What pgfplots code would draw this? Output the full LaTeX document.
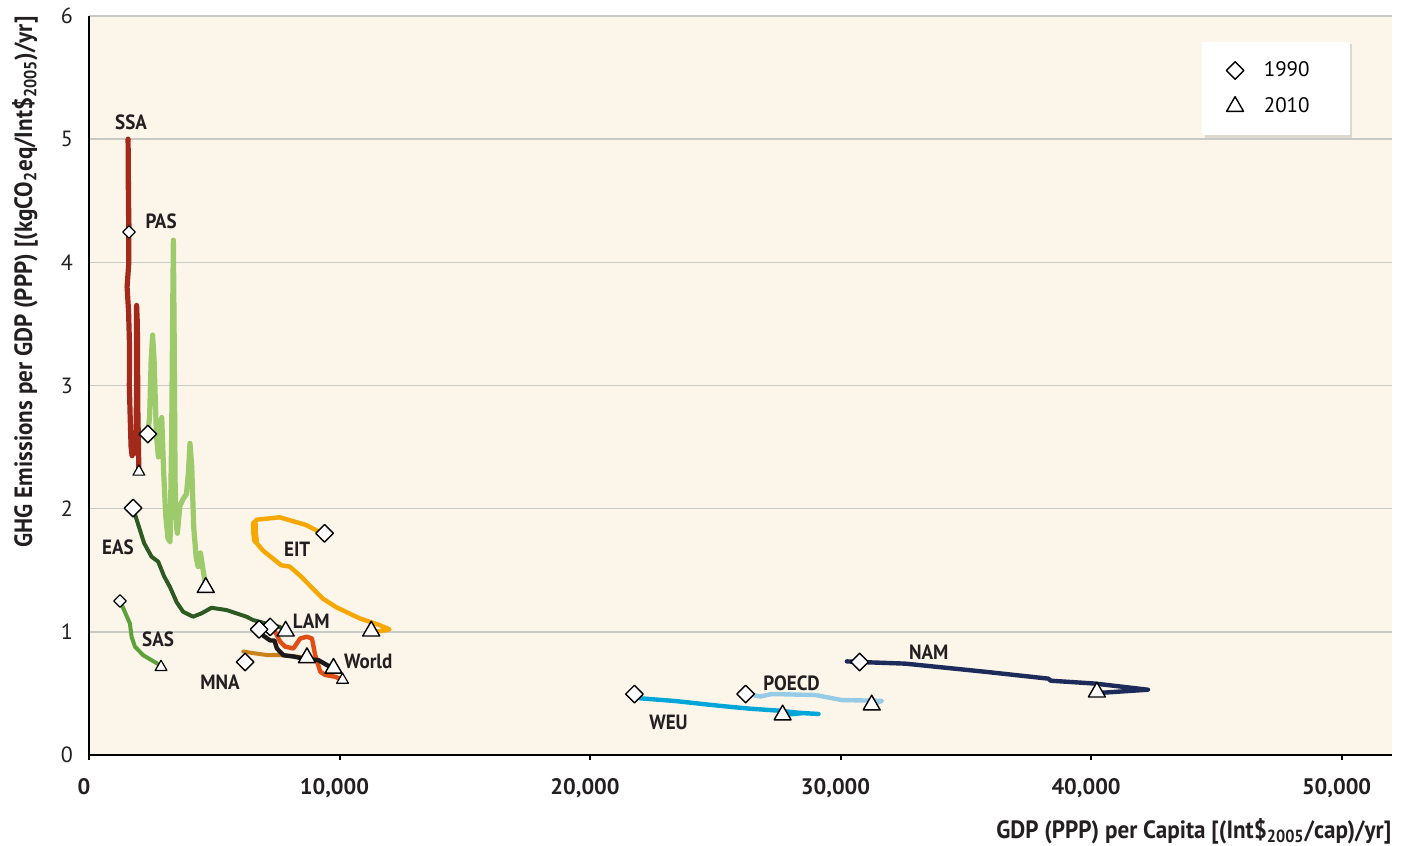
\documentclass[border=0pt]{standalone}
\usepackage{fontspec}
\setmainfont{PT Sans}
\newfontfamily\lblfont{PT Sans}[FakeStretch=0.925]
\usepackage{pgfplots}
\pgfplotsset{compat=1.18}
\usetikzlibrary{shadows}

\definecolor{bgc}{HTML}{FCF5EA}
\definecolor{gridc}{HTML}{C9C9C6}
\definecolor{ssa}{HTML}{A3291B}
\definecolor{pas}{HTML}{9DCB6B}
\definecolor{eas}{HTML}{2D5A22}
\definecolor{sas}{HTML}{5DA13A}
\definecolor{eit}{HTML}{F6A800}
\definecolor{lam}{HTML}{E04E16}
\definecolor{mna}{HTML}{C9821A}
\definecolor{wld}{HTML}{1A1A1A}
\definecolor{weu}{HTML}{00A6D8}
\definecolor{poecd}{HTML}{96CBE6}
\definecolor{nam}{HTML}{1C2B59}
\definecolor{txt}{HTML}{231F20}

\begin{document}
\begin{tikzpicture}
\begin{axis}[
    at={(0,0)}, anchor=south west,
    scale only axis,
    width=651.35pt, height=369.5pt,
    xmin=0, xmax=52000, ymin=0, ymax=6,
    axis x line*=bottom, axis y line*=left,
    axis line style={-, line width=1.3pt, black},
    axis background/.style={fill=bgc},
    xtick={0,10000,20000,30000,40000,50000},
    ytick={0,1,2,3,4,5,6},
    ymajorgrids,
    grid style={line width=0.8pt, gridc},
    tick align=outside,
    major tick length=2.5pt,
    xtick style={black, line width=1pt},
    ytick style={draw=none},
    scaled x ticks=false,
    /pgf/number format/assume math mode=true,
    /pgf/number format/1000 sep={,},
    xticklabel style={font=\bfseries\fontsize{11.2}{13}\selectfont, text=txt, xshift=-2.5pt, yshift=-5.5pt},
    yticklabel style={font=\fontsize{11}{13}\selectfont, text=txt, xshift=-2pt},
    xlabel={GDP (PPP) per Capita [(Int\$\textsubscript{2005}/cap)/yr]},
    ylabel={GHG Emissions per GDP (PPP) [(kgCO\textsubscript{2}eq/Int\$\textsubscript{2005})/yr]},
    xlabel style={font=\lblfont\bfseries\fontsize{12.5}{14}\selectfont, text=txt, at={(axis description cs:1,-0.085)}, anchor=north east, inner sep=0pt},
    ylabel style={font=\lblfont\bfseries\fontsize{12.5}{14}\selectfont, text=txt, at={(axis description cs:-0.039,1)}, anchor=south east, inner sep=0pt},
    legend style={at={(axis description cs:0.968,0.966)}, anchor=north east,
        draw=none, fill=white, font=\fontsize{10.5}{12}\selectfont,
        inner xsep=12pt, inner ysep=8pt, row sep=5pt,
        drop shadow={shadow xshift=1.2pt, shadow yshift=-1.2pt, opacity=0.25}},
    legend cell align=left,
    clip=false,
    every axis plot/.append style={line join=round, line cap=round},
]

% SSA
\addplot[ssa, line width=2.6pt, forget plot] coordinates {
 (1598,4.25) (1570,4.6) (1560,5.0) (1575,4.6) (1590,4.0) (1520,3.8) (1580,3.6)
 (1620,3.3) (1610,3.0) (1650,2.7) (1680,2.5) (1720,2.43) (1760,2.6) (1800,2.55)
 (1870,2.45) (1900,3.0) (1900,3.65) (1930,3.5) (1950,2.8) (1992,2.30)
};
% PAS
\addplot[pas, line width=2.6pt, forget plot] coordinates {
 (2351,2.606) (2420,2.75) (2480,3.2) (2540,3.41) (2600,3.2) (2690,2.6) (2770,2.42)
 (2840,2.65) (2904,2.74) (2980,2.3) (3060,1.95) (3150,1.76) (3236,1.73) (3300,2.6)
 (3340,3.6) (3368,4.18) (3400,3.4) (3436,2.23) (3480,1.88) (3528,1.80) (3625,2.02)
 (3760,2.08) (3890,2.12) (3970,2.3) (4030,2.53) (4100,2.35) (4180,1.85) (4280,1.6)
 (4355,1.53) (4450,1.64) (4540,1.52) (4620,1.42) (4661,1.36)
};
% EAS
\addplot[eas, line width=2pt, forget plot] coordinates {
 (1758,2.005) (1950,1.88) (2200,1.72) (2498,1.61) (2761,1.57) (3000,1.45) (3227,1.366)
 (3500,1.24) (3758,1.163) (4155,1.123) (4490,1.15) (4888,1.195) (5486,1.177)
 (6283,1.123) (6547,1.096) (7200,1.06) (7610,1.04) (7850,1.006)
};
% SAS
\addplot[sas, line width=2pt, forget plot] coordinates {
 (1238,1.25) (1370,1.19) (1633,1.068) (1700,0.96) (1833,0.88) (2163,0.81)
 (2498,0.77) (2829,0.73) (2876,0.714)
};
% EIT
\addplot[eit, line width=2.2pt, forget plot] coordinates {
 (9402,1.80) (9203,1.81) (8673,1.867) (7610,1.93) (6681,1.91) (6600,1.88) (6600,1.80)
 (6650,1.73) (6946,1.66) (7677,1.54) (8008,1.53) (8406,1.46) (9335,1.27) (9867,1.20)
 (10797,1.11) (11594,1.055) (11992,1.02) (11460,1.0) (11266,1.006)
};
\addplot[eit, line width=3.4pt, forget plot] coordinates {
 (6600,1.88) (6610,1.80) (6650,1.74)
};
% MNA
\addplot[mna, line width=2pt, forget plot] coordinates {
 (6160,0.84) (6630,0.825) (7160,0.81) (7700,0.81) (8230,0.80) (8700,0.79)
};
% LAM
\addplot[lam, line width=2.2pt, forget plot] coordinates {
 (7230,1.04) (7430,1.0) (7630,0.92) (7830,0.88) (8160,0.865) (8430,0.946) (8700,0.96)
 (8900,0.946) (9030,0.81) (9230,0.676) (9430,0.65) (9830,0.635) (10120,0.61)
};
% World
\addplot[wld, line width=2.2pt, forget plot] coordinates {
 (6790,1.02) (6950,0.97) (7230,0.93) (7400,0.93) (7500,0.865) (7760,0.81) (8160,0.80)
 (8630,0.78) (9160,0.77) (9500,0.73) (9760,0.704)
};
% WEU
\addplot[weu, line width=2.2pt, forget plot] coordinates {
 (21774,0.495) (22020,0.46) (23410,0.438) (25140,0.40) (26330,0.377) (27530,0.36)
 (28330,0.343) (29120,0.333) (28500,0.34) (27687,0.325)
};
% POECD
\addplot[poecd, line width=2.2pt, forget plot] coordinates {
 (26208,0.495) (26470,0.487) (26800,0.475) (27260,0.495) (28990,0.487) (30050,0.446)
 (31650,0.44) (31242,0.406)
};
% NAM
\addplot[nam, line width=2.2pt, forget plot] coordinates {
 (30250,0.76) (30763,0.755) (32570,0.742) (35760,0.676) (38290,0.62) (38400,0.603)
 (40150,0.58) (42270,0.53) (40410,0.505) (40232,0.511)
};

% 1990 markers
\addplot[only marks, mark=square*, mark size=3.1pt,
  mark options={rotate=45, fill=white, draw=black, line width=0.7pt}] coordinates {
 (2351,2.606) (1758,2.005) (9402,1.80) (7230,1.04) (6790,1.02) (6233,0.755)
 (21774,0.495) (26208,0.495) (30763,0.755)
};
\addlegendentry{\kern8pt 1990\kern6pt}
\addplot[only marks, mark=triangle*, mark size=4.9pt,
  mark options={fill=white, draw=black, line width=0.7pt}] coordinates {
 (4661,1.36) (7850,1.006) (11266,1.006) (9760,0.704) (8700,0.79)
 (27687,0.325) (31242,0.406) (40232,0.511)
};
\addlegendentry{\kern8pt 2010\kern6pt}
\addplot[only marks, mark=square*, mark size=2.2pt, forget plot,
  mark options={rotate=45, fill=white, draw=black, line width=0.6pt}] coordinates {
 (1598,4.246) (1238,1.25)
};
\addplot[only marks, mark=triangle*, mark size=3.4pt, forget plot,
  mark options={fill=white, draw=black, line width=0.6pt}] coordinates {
 (1992,2.30) (2876,0.714) (10120,0.61)
};

% region labels
\begin{scope}[every node/.style={font=\lblfont\bfseries\fontsize{10.3}{12}\selectfont, text=txt}]
\node at (axis cs:1678,5.14) {SSA};
\node at (axis cs:2877,4.335) {PAS};
\node at (axis cs:1159,1.689) {EAS};
\node at (axis cs:2757,0.942) {SAS};
\node at (axis cs:5234,0.593) {MNA};
\node at (axis cs:8310,1.672) {EIT};
\node at (axis cs:8869,1.088) {LAM};
\node at (axis cs:11147,0.763) {World};
\node at (axis cs:23132,0.268) {WEU};
\node at (axis cs:28046,0.585) {POECD};
\node at (axis cs:33520,0.836) {NAM};
\end{scope}
\end{axis}
\pgfresetboundingbox
\path[use as bounding box] (-44.5pt,-45.5pt) rectangle (662.5pt,377.5pt);
\end{tikzpicture}
\end{document}
